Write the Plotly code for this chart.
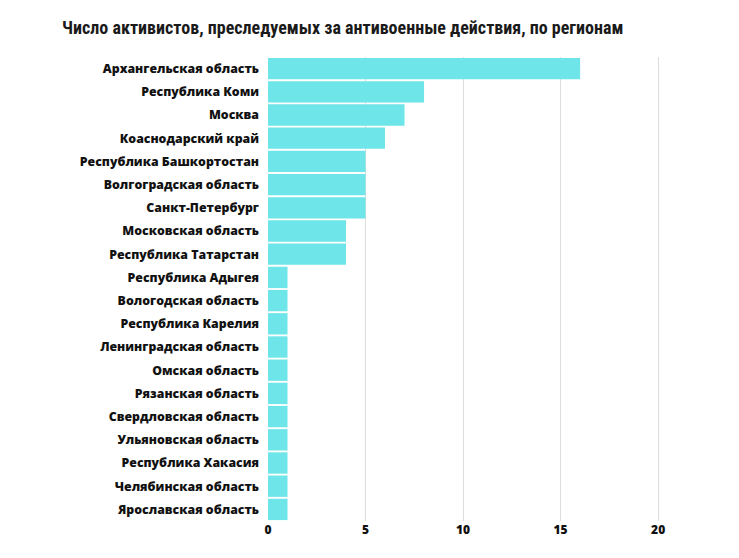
import plotly.graph_objects as go

regions = [
    "Архангельская область", "Республика Коми", "Москва", "Коаснодарский край",
    "Республика Башкортостан", "Волгоградская область", "Санкт-Петербург",
    "Московская область", "Республика Татарстан", "Республика Адыгея",
    "Вологодская область", "Республика Карелия", "Ленинградская область",
    "Омская область", "Рязанская область", "Свердловская область",
    "Ульяновская область", "Республика Хакасия", "Челябинская область",
    "Ярославская область",
]
counts = [16, 8, 7, 6, 5, 5, 5, 4, 4, 1, 1, 1, 1, 1, 1, 1, 1, 1, 1, 1]
x_ticks = [0, 5, 10, 15, 20]

W, H = 731, 550

fig = go.Figure(go.Bar(
    x=counts, y=regions, orientation="h",
    marker=dict(color="#6ee6e9", line=dict(width=0)),
    hoverinfo="x+y",
))

fig.update_layout(
    width=W, height=H,
    margin=dict(l=260, r=75, t=49, b=37, autoexpand=False),
    paper_bgcolor="white", plot_bgcolor="white",
    bargap=0.08,
    showlegend=False,
    title=dict(
        text="<b>Число активистов, преследуемых за антивоенные действия, по регионам</b>",
        x=54 / W, xanchor="left", y=1 - 20 / H, yanchor="middle",
        font=dict(family="Liberation Sans Narrow, Roboto Condensed, Roboto", size=18, color="#1a1a1a"),
    ),
    xaxis=dict(
        range=[0, 20.3], tickvals=x_ticks, ticktext=[str(v) for v in x_ticks],
        showgrid=True, gridcolor="#dddddd", gridwidth=1, zeroline=False,
        tickfont=dict(family="Open Sans", size=12, color="#111111", weight=800),
        automargin=False, fixedrange=True,
    ),
    yaxis=dict(
        categoryorder="array", categoryarray=regions, autorange="reversed",
        tickvals=regions, ticktext=regions,
        tickfont=dict(family="Open Sans", size=12.3, color="#111111", weight=800),
        ticks="", ticklen=0, showgrid=False, zeroline=False,
        automargin=False, fixedrange=True,
    ),
)
fig.update_yaxes(ticklabelstandoff=8)

fig.write_html("out.html")
